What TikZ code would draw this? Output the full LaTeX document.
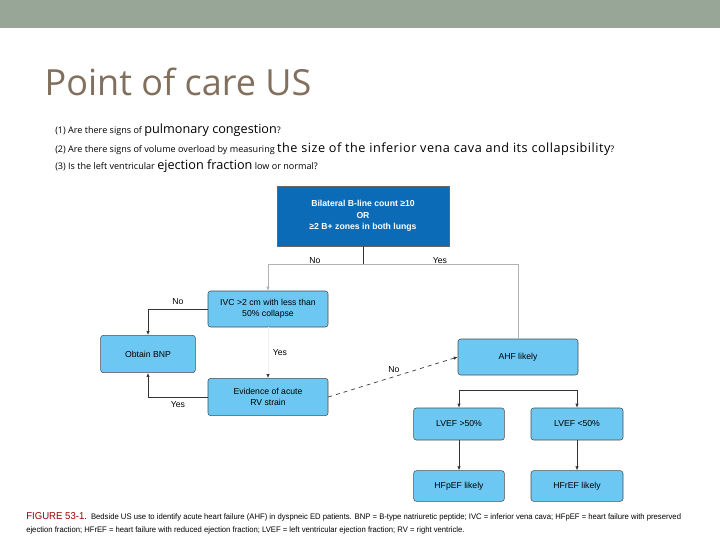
\documentclass[tikz,border=0pt]{standalone}
\usepackage{fontspec}
\usetikzlibrary{arrows.meta}
\setmainfont{Open Sans}
\newfontfamily\arial{Liberation Sans}
\newfontfamily\narrow{Liberation Sans}[FakeStretch=0.96]
\newfontfamily\wide{Open Sans}[LetterSpace=4]
\definecolor{lbf}{HTML}{6CC8F2}
\definecolor{dbf}{HTML}{0B6BB6}
\begin{document}
\begin{tikzpicture}[x=0.75pt,y=-0.75pt,
  lb/.style={draw=black!70,fill=lbf,rounded corners=2pt,font=\arial\fontsize{6.5}{8}\selectfont,align=center,inner sep=1pt},
  ln/.style={draw=black!80,line width=0.5pt},
  gl/.style={draw=black!30,line width=0.5pt},
  tip/.style={-{Latex[length=3pt,width=2.5pt]}},
  lab/.style={font=\arial\fontsize{6.5}{8}\selectfont}]
\useasboundingbox (0,0) rectangle (720,540);
\fill[white] (0,0) rectangle (720,540);
\fill[color={rgb,255:red,152;green,166;blue,152}] (0,0) rectangle (720,28);
\node[anchor=west,text=black!60!brown!70!white,font=\fontsize{27}{30}\selectfont] (title) at (40,82) {Point of care US};
\begin{scope}[every node/.style={anchor=west,font=\fontsize{6.8}{8}\selectfont,inner sep=0}]
\node (q1) at (55,130) {(1) Are there signs of {\fontsize{9.5}{10}\selectfont pulmonary congestion}?};
\node (q2) at (55,149) {(2) Are there signs of volume overload by measuring {\wide\fontsize{9.5}{10}\selectfont the size of the inferior vena cava and its collapsibility}?};
\node (q3) at (55,166) {(3) Is the left ventricular {\fontsize{9.5}{10}\selectfont ejection fraction} low or normal?};
\end{scope}
\node[draw=black!60,fill=dbf,text=white,font=\arial\bfseries\fontsize{6.5}{8.5}\selectfont,align=center,minimum width=129pt,minimum height=45pt] (top) at (363,216) {Bilateral B-line count ≥10\\OR\\≥2 B+ zones in both lungs};
\node[lb,minimum width=90pt,minimum height=27pt] (ivc) at (268,309) {IVC >2 cm with less than\\50\% collapse};
\node[lb,minimum width=71pt,minimum height=28pt] (bnp) at (148,354) {Obtain BNP};
\node[lb,minimum width=90pt,minimum height=28pt] (rv) at (268,397) {Evidence of acute\\RV strain};
\node[lb,minimum width=90pt,minimum height=27pt] (ahf) at (518,357) {AHF likely};
\node[lb,minimum width=68pt,minimum height=24pt] (lv1) at (459,424) {LVEF >50\%};
\node[lb,minimum width=69pt,minimum height=24pt] (lv2) at (577,424) {LVEF <50\%};
\node[lb,minimum width=68pt,minimum height=23pt] (hp) at (459,486) {HFpEF likely};
\node[lb,minimum width=69pt,minimum height=23pt] (hr) at (577,486) {HFrEF likely};
\coordinate (j) at (363,264);
\draw[ln] (top.south) -- (j);
\draw[gl,tip] (j) -| (ivc.north);
\draw[gl] (j) -| (ahf.north);
\node[lab] (lno) at (315,261) {No};
\node[lab] (lyes) at (440,261) {Yes};
\draw[ln,tip] (ivc.west) -| (bnp.north);
\node[lab] (l2) at (178,302) {No};
\draw[ln,tip] (rv.west) -| (bnp.south);
\node[lab] (l3) at (178,405) {Yes};
\draw[black!6,line width=0.5pt,-{Latex[length=3pt,width=2.5pt,black!80]}] (ivc.south) -- (rv.north);
\node[lab] (l4) at (280,353) {Yes};
\draw[ln,dashed,tip] (rv.east) -- (ahf.west);
\node[lab] (l5) at (394,370) {No};
\coordinate (k) at (459,390);
\draw[ln,tip] (k) -- (lv1.north);
\draw[ln,tip] (k) -| (lv2.north);
\draw[ln,tip] (lv1.south) -- (hp.north);
\draw[ln,tip] (lv2.south) -- (hr.north);
\node[anchor=west,inner sep=0,font=\narrow\fontsize{6}{7.5}\selectfont] (cap1) at (26,517) {{\color{red!60!black}\fontsize{7.5}{8}\selectfont FIGURE 53-1.}\enspace Bedside US use to identify acute heart failure (AHF) in dyspneic ED patients. BNP = B-type natriuretic peptide; IVC = inferior vena cava; HFpEF = heart failure with preserved};
\node[anchor=west,inner sep=0,font=\narrow\fontsize{6}{7.5}\selectfont] (cap2) at (26,530) {ejection fraction; HFrEF = heart failure with reduced ejection fraction; LVEF = left ventricular ejection fraction; RV = right ventricle.};
\end{tikzpicture}
\end{document}
